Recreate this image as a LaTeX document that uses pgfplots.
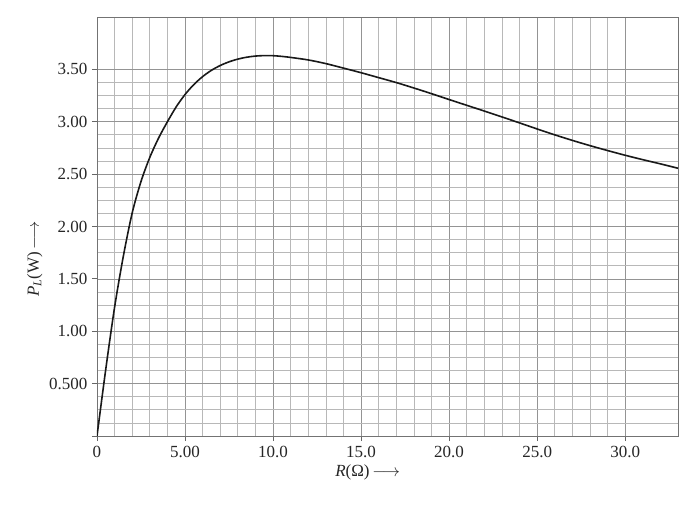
\documentclass[border=0pt]{standalone}
\usepackage{fontspec}
\setmainfont{Liberation Serif}
\usepackage{pgfplots}
\pgfplotsset{compat=1.18}
\begin{document}
\begin{tikzpicture}
\begin{axis}[
  scale only axis,
  width=581bp, height=419bp,
  xmin=0, xmax=33, ymin=0, ymax=4,
  xtick={0,5,10,15,20,25,30},
  xticklabels={0,5.00,10.0,15.0,20.0,25.0,30.0},
  ytick={0,0.5,1,1.5,2,2.5,3,3.5},
  yticklabels={,0.500,1.00,1.50,2.00,2.50,3.00,3.50},
  minor x tick num=4,
  minor y tick num=3,
  grid=both,
  major grid style={draw=black!42, line width=0.7bp},
  minor grid style={draw=black!28, line width=0.7bp},
  axis line style={draw=black!55, line width=0.9bp},
  xtick pos=bottom, ytick pos=left,
  tick align=outside,
  major tick length=5bp,
  minor tick length=0pt,
  tick style={draw=black!60, line width=0.8bp},
  ticklabel style={font=\fontsize{17bp}{20bp}\selectfont, text=black!85},
  xticklabel style={yshift=-2bp},
  yticklabel style={xshift=-1bp},
  label style={font=\fontsize{17bp}{20bp}\selectfont, text=black!85},
  xlabel={\textit{R}(Ω)\,$\longrightarrow$},
  ylabel={\textit{P}\textsubscript{\textit{L}}(W)\,$\longrightarrow$},
  xlabel style={at={(ticklabel cs:0.466)}, anchor=north},
  ylabel style={at={(ticklabel cs:0.427)}, anchor=south, xshift=-2bp},
]
\addplot[black!90, line width=1.6bp, smooth, tension=0.5] coordinates {
(0,0) (0.5,0.64) (1,1.23) (1.5,1.72) (2,2.13)
(2.5,2.43) (3,2.66) (3.5,2.845) (4,3.0) (4.5,3.1425) (5,3.26) (5.5,3.355)
(6,3.431) (6.5,3.491) (7,3.537) (7.5,3.572) (8,3.598) (8.5,3.616) (9,3.627)
(9.5,3.6315) (10,3.6305) (10.5,3.624) (11,3.614) (12,3.59) (13,3.555) (14,3.512)
(15,3.468) (16,3.421) (17,3.374) (18,3.322) (19,3.268) (20,3.212)
(21,3.157) (22,3.102) (23,3.046) (24,2.989) (25,2.931) (26,2.875)
(27,2.822) (28,2.772) (29,2.725) (30,2.68) (31,2.638) (32,2.598) (33,2.556)
};
\end{axis}
\path (current axis.south west) ++(-97bp,-69bp) rectangle ++(696bp,505bp);
\end{tikzpicture}
\end{document}
